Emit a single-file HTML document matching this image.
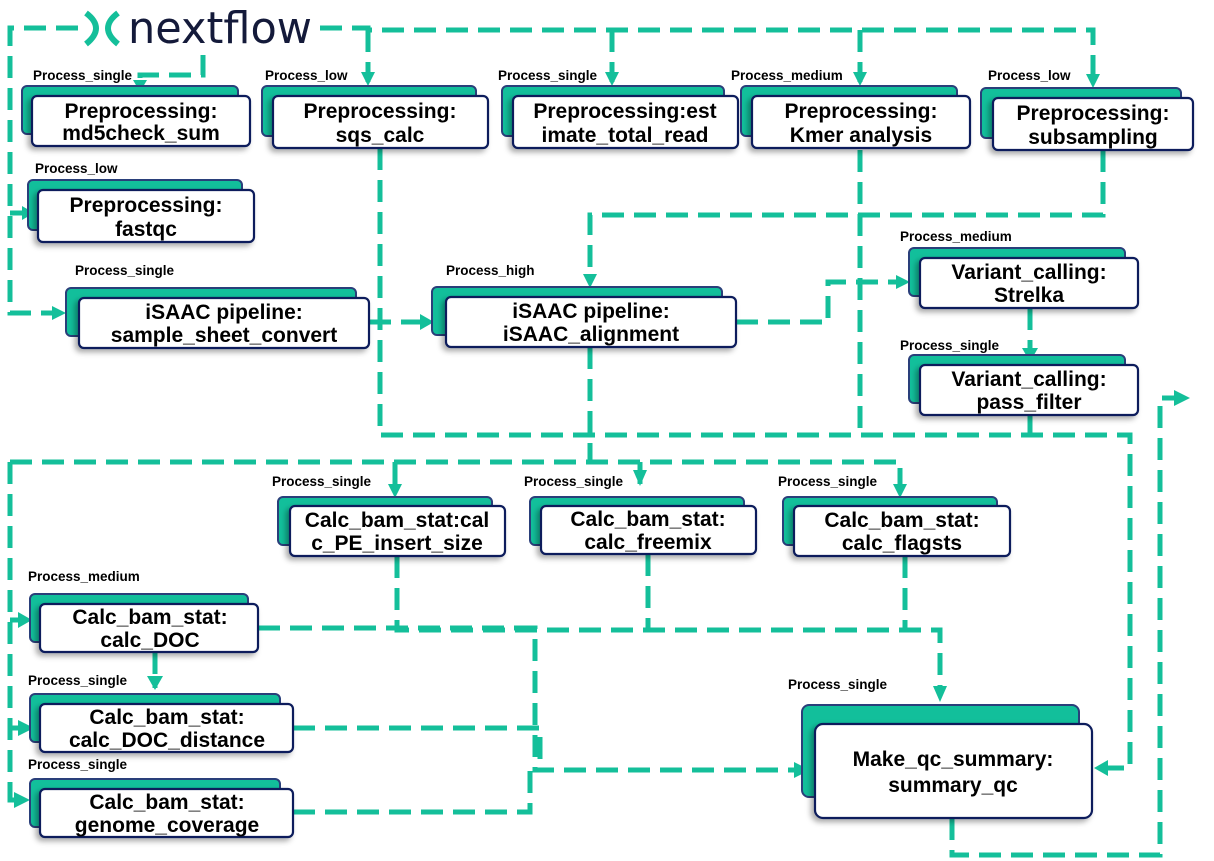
<!DOCTYPE html>
<html><head><meta charset="utf-8"><style>
html,body{margin:0;padding:0;background:#fff;}
svg{display:block}
text{font-family:"Liberation Sans",sans-serif;}
.t{font-weight:bold;font-size:21px;fill:#000;text-anchor:middle}
.l{font-weight:bold;font-size:13.5px;fill:#000}
.c{fill:none;stroke:#14bf9a;stroke-width:5;stroke-dasharray:22 10}
.a{fill:#14bf9a}
.b{fill:#12bf9b;stroke:#2a3f7a;stroke-width:2}
.f{fill:#fff;stroke:#0c1f5c;stroke-width:2.2}
</style></head><body>
<svg width="1214" height="861" viewBox="0 0 1214 861" xmlns="http://www.w3.org/2000/svg">
<defs><filter id="sh" x="-10%" y="-10%" width="130%" height="140%"><feDropShadow dx="-3" dy="3" stdDeviation="3" flood-opacity="0.35"/></filter></defs>
<g class="c">
<path d="M78 28 H10 V313 H60"/>
<path d="M10 213 H25"/>
<path d="M203 55 V75 H140 V82"/>
<path d="M320 28 H368 V30 H1093 V82"/>
<path d="M368 30 V82"/><path d="M612 30 V82"/><path d="M860 30 V82"/>
<path d="M380 148 V435 H1130 V768 H1100"/>
<path d="M860 150 V435"/>
<path d="M1030 415 V435"/>
<path d="M1103 150 V215 H590 V282"/>
<path d="M369 322 H425"/>
<path d="M736 322 H828 V282 H902"/>
<path d="M1030 308 V355"/>
<path d="M590 347 V462"/>
<path d="M10 462 H900 V490"/>
<path d="M395 462 V490"/><path d="M640 462 V490"/>
<path d="M10 462 V800 H25"/>
<path d="M10 620 H25"/>
<path d="M10 730 V728 H35"/>
<path d="M155 652 V688"/>
<path d="M258 628 H535 V770 H795"/>
<path d="M293 728 H540 V770"/>
<path d="M293 812 H530 V770"/>
<path d="M397 556 V630 H940 V695"/>
<path d="M648 554 V630"/><path d="M905 556 V630"/>
<path d="M952 818 V855 H1160 V398 H1180"/>
</g>
<g class="a">
<polygon points="133,80 147,80 140,92"/>
<polygon points="361,72 375,72 368,86"/>
<polygon points="605,72 619,72 612,86"/>
<polygon points="853,72 867,72 860,86"/>
<polygon points="1086,74 1100,74 1093,88"/>
<polygon points="22,206 22,220 34,213"/>
<polygon points="52,306 52,320 66,313"/>
<polygon points="420,314 420,330 434,322"/>
<polygon points="583,274 597,274 590,288"/>
<polygon points="896,275 896,289 910,282"/>
<polygon points="1022,348 1038,348 1030,362"/>
<polygon points="388,484 402,484 395,498"/>
<polygon points="633,470 647,470 640,486"/>
<polygon points="893,484 907,484 900,498"/>
<polygon points="18,612 18,628 32,620"/>
<polygon points="18,720 18,736 34,728"/>
<polygon points="14,792 14,808 30,800"/>
<polygon points="147,676 163,676 155,690"/>
<polygon points="794,762 794,778 810,770"/>
<polygon points="933,686 947,686 940,702"/>
<polygon points="1108,760 1108,776 1094,768"/>
<polygon points="1174,390 1174,406 1190,398"/>
</g>
<g fill="none" stroke="#14bf9a" stroke-width="6">
<path d="M86 13 Q106 28 86 44"/><path d="M118 13 Q98 28 118 44"/>
</g>
<text x="128" y="43" style="font-size:44px;fill:#141a3a;font-family:'DejaVu Sans','Liberation Sans',sans-serif" textLength="184" lengthAdjust="spacingAndGlyphs">nextflow</text>
<g>
<rect class="b" x="22" y="86" width="216" height="48" rx="5"/><rect class="f" filter="url(#sh)" x="32" y="96" width="218" height="50" rx="5"/>
<text class="t" x="141" y="118">Preprocessing:</text><text class="t" x="141" y="140">md5check_sum</text>
<text class="l" x="33" y="80">Process_single</text>

<rect class="b" x="262" y="86" width="214" height="50" rx="5"/><rect class="f" filter="url(#sh)" x="273" y="96" width="215" height="52" rx="5"/>
<text class="t" x="380" y="118">Preprocessing:</text><text class="t" x="380" y="142">sqs_calc</text>
<text class="l" x="265" y="80">Process_low</text>

<rect class="b" x="502" y="86" width="222" height="50" rx="5"/><rect class="f" filter="url(#sh)" x="513" y="96" width="225" height="52" rx="5"/>
<text class="t" x="625" y="118">Preprocessing:est</text><text class="t" x="625" y="142">imate_total_read</text>
<text class="l" x="498" y="80">Process_single</text>

<rect class="b" x="741" y="86" width="216" height="50" rx="5"/><rect class="f" filter="url(#sh)" x="752" y="96" width="218" height="52" rx="5"/>
<text class="t" x="861" y="118">Preprocessing:</text><text class="t" x="861" y="142">Kmer analysis</text>
<text class="l" x="731" y="80">Process_medium</text>

<rect class="b" x="981" y="88" width="200" height="50" rx="5"/><rect class="f" filter="url(#sh)" x="993" y="98" width="200" height="52" rx="5"/>
<text class="t" x="1093" y="120">Preprocessing:</text><text class="t" x="1093" y="144">subsampling</text>
<text class="l" x="988" y="80">Process_low</text>

<rect class="b" x="28" y="180" width="214" height="50" rx="5"/><rect class="f" filter="url(#sh)" x="38" y="190" width="216" height="52" rx="5"/>
<text class="t" x="146" y="212">Preprocessing:</text><text class="t" x="146" y="236">fastqc</text>
<text class="l" x="35" y="173">Process_low</text>

<rect class="b" x="66" y="288" width="290" height="48" rx="5"/><rect class="f" filter="url(#sh)" x="79" y="298" width="290" height="50" rx="5"/>
<text class="t" x="224" y="319">iSAAC pipeline:</text><text class="t" x="224" y="342">sample_sheet_convert</text>
<text class="l" x="75" y="275">Process_single</text>

<rect class="b" x="432" y="287" width="290" height="48" rx="5"/><rect class="f" filter="url(#sh)" x="446" y="297" width="290" height="50" rx="5"/>
<text class="t" x="591" y="318">iSAAC pipeline:</text><text class="t" x="591" y="341">iSAAC_alignment</text>
<text class="l" x="446" y="275">Process_high</text>

<rect class="b" x="909" y="248" width="216" height="48" rx="5"/><rect class="f" filter="url(#sh)" x="920" y="258" width="218" height="50" rx="5"/>
<text class="t" x="1029" y="279">Variant_calling:</text><text class="t" x="1029" y="302">Strelka</text>
<text class="l" x="900" y="241">Process_medium</text>

<rect class="b" x="909" y="355" width="216" height="48" rx="5"/><rect class="f" filter="url(#sh)" x="920" y="365" width="218" height="50" rx="5"/>
<text class="t" x="1029" y="386">Variant_calling:</text><text class="t" x="1029" y="409">pass_filter</text>
<text class="l" x="900" y="350">Process_single</text>

<rect class="b" x="278" y="497" width="214" height="48" rx="5"/><rect class="f" filter="url(#sh)" x="290" y="506" width="215" height="50" rx="5"/>
<text class="t" x="397" y="527">Calc_bam_stat:cal</text><text class="t" x="397" y="550">c_PE_insert_size</text>
<text class="l" x="272" y="486">Process_single</text>

<rect class="b" x="530" y="497" width="214" height="48" rx="5"/><rect class="f" filter="url(#sh)" x="541" y="506" width="215" height="48" rx="5"/>
<text class="t" x="648" y="526">Calc_bam_stat:</text><text class="t" x="648" y="549">calc_freemix</text>
<text class="l" x="524" y="486">Process_single</text>

<rect class="b" x="783" y="497" width="214" height="48" rx="5"/><rect class="f" filter="url(#sh)" x="794" y="506" width="216" height="50" rx="5"/>
<text class="t" x="902" y="527">Calc_bam_stat:</text><text class="t" x="902" y="550">calc_flagsts</text>
<text class="l" x="778" y="486">Process_single</text>

<rect class="b" x="30" y="594" width="218" height="48" rx="5"/><rect class="f" filter="url(#sh)" x="40" y="604" width="218" height="48" rx="5"/>
<text class="t" x="150" y="624">Calc_bam_stat:</text><text class="t" x="150" y="647">calc_DOC</text>
<text class="l" x="28" y="581">Process_medium</text>

<rect class="b" x="30" y="694" width="250" height="48" rx="5"/><rect class="f" filter="url(#sh)" x="40" y="704" width="253" height="48" rx="5"/>
<text class="t" x="167" y="724">Calc_bam_stat:</text><text class="t" x="167" y="747">calc_DOC_distance</text>
<text class="l" x="28" y="685">Process_single</text>

<rect class="b" x="30" y="779" width="250" height="48" rx="5"/><rect class="f" filter="url(#sh)" x="40" y="789" width="253" height="48" rx="5"/>
<text class="t" x="167" y="809">Calc_bam_stat:</text><text class="t" x="167" y="832">genome_coverage</text>
<text class="l" x="28" y="769">Process_single</text>

<rect class="b" x="802" y="705" width="277" height="92" rx="7"/><rect class="f" filter="url(#sh)" x="815" y="724" width="277" height="94" rx="8"/>
<text class="t" x="953" y="766">Make_qc_summary:</text><text class="t" x="953" y="792">summary_qc</text>
<text class="l" x="788" y="689">Process_single</text>
</g>
</svg>
</body></html>
